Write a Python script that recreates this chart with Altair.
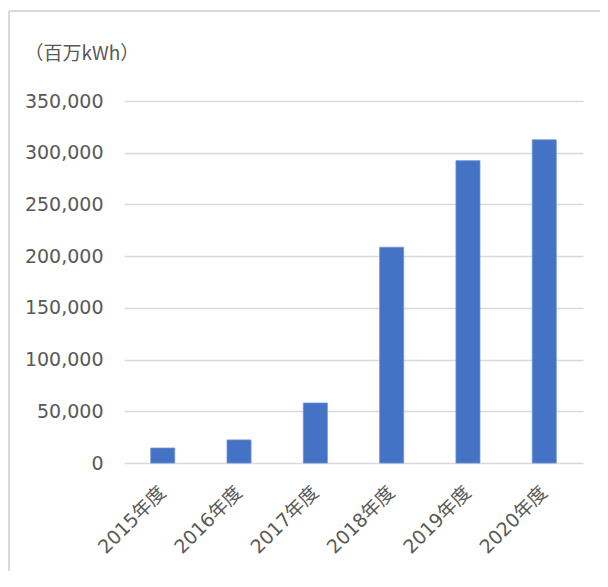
import altair as alt
import pandas as pd

years = ["2015年度", "2016年度", "2017年度", "2018年度", "2019年度", "2020年度"]
values = [14500, 22300, 58000, 208600, 292300, 312500]
y_ticks = [0, 50000, 100000, 150000, 200000, 250000, 300000, 350000]
unit_title = "（百万kWh）"

df = pd.DataFrame({"year": years, "value": values})

FONT = "DejaVu Sans, Noto Sans CJK JP"
TFONT = "Noto Sans CJK JP"
GRAY = "#595959"

bars = alt.Chart(df).mark_bar(color="#4472C4", stroke="#6f93d6", strokeWidth=0.8).encode(
    x=alt.X("year:N", sort=years,
            scale=alt.Scale(paddingInner=0.685, paddingOuter=0.35),
            axis=alt.Axis(title=None, labelAngle=-45, labelAlign="right", labelBaseline="middle",
                          labelPadding=26, labelFontSize=19, labelColor=GRAY, labelFont=FONT,
                          ticks=False, domain=False)),
    y=alt.Y("value:Q", scale=alt.Scale(domain=[0, 350000], nice=False),
            axis=alt.Axis(title=unit_title, titleAngle=0, titleX=-100, titleY=-48,
                          titleAlign="left", titleBaseline="middle", titleFontSize=19,
                          titleFontWeight="normal", titleColor=GRAY, titleFont=TFONT,
                          values=y_ticks, labelExpr="format(datum.value, ',')",
                          labelFontSize=19, labelColor=GRAY,
                          labelFont=FONT, labelPadding=21, ticks=False, domain=False,
                          gridColor="#d9d9d9", gridWidth=1.5)),
)

border_top = alt.Chart(df).mark_rule(color="#d9d9d9", strokeWidth=1.5, clip=False).encode(
    x=alt.value(-115), x2=alt.value(640), y=alt.value(-90)
)
border_left = alt.Chart(df).mark_rule(color="#d9d9d9", strokeWidth=1.5, clip=False).encode(
    x=alt.value(-115), y=alt.value(-90), y2=alt.value(640)
)

chart = alt.layer(border_top, border_left, bars).properties(
    width=459, height=362,
    autosize=alt.AutoSizeParams(type="none"),
    padding={"left": 116, "top": 93, "right": 17, "bottom": 108},
).configure_view(stroke=None)

chart.save("out.html", embed_options={"renderer": "svg", "actions": False})
